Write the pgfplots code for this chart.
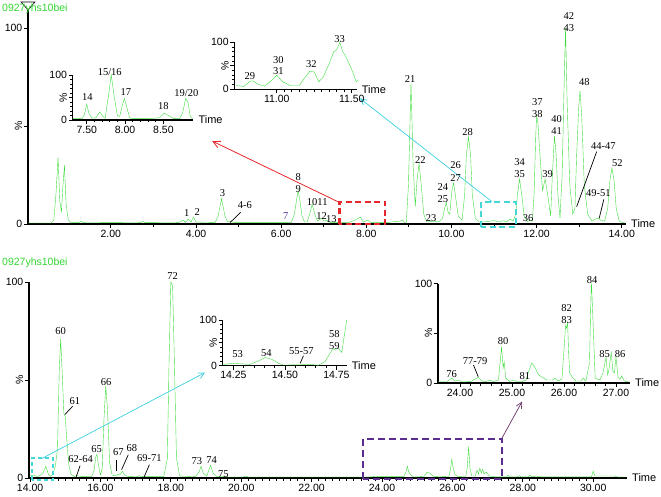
\documentclass[border=0pt]{standalone}
\usepackage{fontspec}
\setmainfont{Liberation Sans}
\newfontfamily\tnr{Liberation Serif}
\usepackage{graphicx}
\usepackage{pgfplots}
\pgfplotsset{compat=1.18}
\usetikzlibrary{arrows.meta}

\definecolor{trace}{HTML}{3FDC3F}
\definecolor{titlegreen}{HTML}{33D633}
\definecolor{boxred}{HTML}{E8262B}
\definecolor{boxcyan}{HTML}{45D6D6}
\definecolor{arrcyan}{HTML}{3CCFE0}
\definecolor{boxpurple}{HTML}{5A2D8F}
\definecolor{arrpurple}{HTML}{6B3568}
\definecolor{lab7}{HTML}{553399}

\tikzset{
  pk/.style={font=\tnr\fontsize{10.5}{10.5}\selectfont, inner sep=0pt},
  lead/.style={black, line width=0.7pt},
}

\pgfplotsset{
  chrom/.style={
    scale only axis, clip=false, anchor=south west,
    axis x line=bottom, axis y line=left,
    axis line style={-, black, line width=1.1pt},
    tick align=outside, major tick length=4pt, minor tick length=2.5pt,
    every tick/.append style={black, line width=0.8pt},
    ytick={0,50,100}, yticklabels={0,\rotatebox{90}{\%},100},
    tick label style={font=\fontsize{10.5}{12}\selectfont},
    xticklabel style={/pgf/number format/fixed, /pgf/number format/fixed zerofill,
      /pgf/number format/precision=2, /pgf/number format/assume math mode=true, inner sep=1.5pt},
    yticklabel style={inner sep=1.5pt},
    cycle list={{trace, line width=1.1pt, mark=none}},
  },
}
\newcommand{\timelabel}{\node[anchor=west, font=\fontsize{11}{12}\selectfont, inner sep=0pt] at ([xshift=5pt]rel axis cs:1,0) {Time};}

\begin{document}
\begin{tikzpicture}
\useasboundingbox (0,0) rectangle (661pt,496pt);

% ---------------- top main chromatogram
\begin{axis}[chrom, at={(28pt,272pt)}, width=598pt, height=216pt,
  xmin=0.054, xmax=14.1, ymin=0, ymax=110.2,
  xtick={2,4,...,14}, minor x tick num=1]
\addplot coordinates {
(0.05,0.5) (0.6,0.5) (0.66,2) (0.71,15) (0.76,34) (0.80,12) (0.84,6) (0.87,18) (0.91,30)
(0.95,10) (1.0,2) (1.05,0.8) (1.25,0.8) (1.3,1.5) (1.35,0.8) (2.0,0.7) (2.7,0.8) (2.75,1.3)
(2.8,0.7) (3.6,0.8) (3.7,2) (3.75,0.8) (3.82,2.5) (3.88,1) (3.94,3.5) (4.0,1) (4.45,0.8)
(4.52,4) (4.6,13) (4.68,4) (4.74,1) (4.8,1.5) (4.9,0.8) (5.6,0.8) (6.24,0.8) (6.31,5)
(6.36,12) (6.4,17) (6.44,12) (6.49,4) (6.55,1) (6.61,1) (6.67,5) (6.73,10) (6.79,5) (6.85,1.5)
(6.92,2.5) (6.96,3) (7.0,1.5) (7.08,2) (7.15,0.8) (7.6,0.8) (7.78,2.5) (7.86,3.5) (7.93,1)
(8.03,2) (8.1,0.8) (8.5,0.8) (8.8,1.5) (8.85,2) (8.9,0.8) (8.94,1) (8.99,20) (9.05,72) (9.1,30)
(9.15,9) (9.19,22) (9.24,31) (9.29,20) (9.35,5) (9.42,1) (9.6,1.5) (9.7,1) (9.79,3) (9.84,8)
(9.88,11) (9.92,6) (9.96,5) (10.01,17) (10.05,21) (10.09,15) (10.16,4) (10.25,2) (10.31,15)
(10.35,35) (10.4,44.5) (10.45,35) (10.49,15) (10.56,3) (10.65,1) (10.85,1.2) (11.0,1.8)
(11.1,1) (11.2,1.6) (11.3,1.2) (11.38,2.5) (11.45,1.5) (11.51,5) (11.55,15) (11.6,23)
(11.65,15) (11.71,4) (11.78,1.2) (11.85,2) (11.9,1.5) (11.94,15) (11.98,45) (12.0,55) (12.03,52)
(12.08,35) (12.14,17) (12.2,23) (12.26,15) (12.33,4) (12.37,25) (12.42,45) (12.46,35)
(12.5,15) (12.55,3) (12.6,25) (12.65,75) (12.68,100) (12.72,60) (12.78,20) (12.85,5)
(12.9,8) (12.94,35) (12.99,60) (13.02,68) (13.06,55) (13.12,20) (13.2,5) (13.3,1.5)
(13.38,2.5) (13.45,3) (13.5,2) (13.6,1.5) (13.67,8) (13.72,22) (13.77,28.5) (13.82,22)
(13.87,8) (13.94,1.5) (14.0,0.8) (14.08,0.5)
};
\draw[black, line width=0.6pt, fill=white] ([yshift=-2pt]rel axis cs:0,1) -- ++(-7pt,8pt) -- ++(14pt,0pt) -- cycle;
\timelabel
% boxes and arrows
\draw[boxred, line width=2.2pt, dash pattern=on 6pt off 3.5pt] (axis cs:7.37,0) rectangle (axis cs:8.44,11.4);
\draw[boxred, line width=0.8pt, -{Straight Barb[length=7pt,width=7pt]}] (axis cs:7.33,11.4) -- (axis cs:4.38,42.3);
\draw[boxcyan, line width=2pt, dash pattern=on 6pt off 3.5pt] (axis cs:10.70,-1.4) rectangle (axis cs:11.51,11.4);
\draw[arrcyan, line width=0.7pt, -{Straight Barb[length=6pt,width=6pt]}] (axis cs:10.95,11.4) -- (axis cs:7.85,64.1);
% peak labels
\node[pk] at (axis cs:3.78,5.4) {1};
\node[pk] at (axis cs:4.03,6.3) {2};
\node[pk] at (axis cs:4.62,16) {3};
\draw[lead] (axis cs:4.8,0.7) -- (axis cs:5.05,6);
\node[pk] at (axis cs:5.15,9.5) {4-6};
\node[pk, text=lab7] at (axis cs:6.11,4) {7};
\node[pk] at (axis cs:6.4,24) {8};
\node[pk] at (axis cs:6.4,18) {9};
\node[pk] at (axis cs:6.73,11) {10};
\node[pk] at (axis cs:6.97,11) {11};
\node[pk] at (axis cs:6.95,4) {12};
\node[pk] at (axis cs:7.18,2.5) {13};
\node[pk] at (axis cs:9.03,74) {21};
\node[pk] at (axis cs:9.27,32.6) {22};
\node[pk] at (axis cs:9.52,3) {23};
\node[pk] at (axis cs:9.8,19) {24};
\node[pk] at (axis cs:9.8,12.6) {25};
\node[pk] at (axis cs:10.1,30) {26};
\node[pk] at (axis cs:10.1,23.5) {27};
\node[pk] at (axis cs:10.38,47) {28};
\node[pk] at (axis cs:11.6,31.5) {34};
\node[pk] at (axis cs:11.6,25.5) {35};
\node[pk] at (axis cs:11.8,3) {36};
\node[pk] at (axis cs:12.02,62) {37};
\node[pk] at (axis cs:12.02,56) {38};
\node[pk] at (axis cs:12.26,25.5) {39};
\node[pk] at (axis cs:12.47,53.5) {40};
\node[pk] at (axis cs:12.47,47.5) {41};
\node[pk] at (axis cs:12.76,106) {42};
\node[pk] at (axis cs:12.76,100) {43};
\draw[lead] (axis cs:12.94,8.8) -- (axis cs:13.41,36.9);
\node[pk] at (axis cs:13.57,39.8) {44-47};
\node[pk] at (axis cs:13.12,72.5) {48};
\draw[lead] (axis cs:13.47,2.9) -- (axis cs:13.58,12.6);
\node[pk] at (axis cs:13.45,16) {49-51};
\node[pk] at (axis cs:13.9,31) {52};
\end{axis}

% ---------------- inset A (7.3 - 8.9)
\begin{axis}[chrom, at={(72.7pt,376pt)}, width=120.6pt, height=45pt,
  xmin=7.317, xmax=8.89, ymin=0, ymax=100,
  xtick={7.5,8,8.5}, minor x tick num=4, minor y tick num=4]
\addplot coordinates {
(7.32,3) (7.44,3) (7.47,12) (7.5,35) (7.53,14) (7.57,4) (7.62,5) (7.67,18) (7.71,8) (7.74,4)
(7.78,50) (7.82,100) (7.86,50) (7.9,10) (7.93,8) (7.96,30) (7.99,48) (8.02,30) (8.06,5)
(8.1,3) (8.3,3) (8.45,5) (8.51,15) (8.57,10) (8.63,3) (8.71,3) (8.75,15) (8.79,48) (8.82,40)
(8.85,8) (8.88,3)
};
\timelabel
\node[pk] at (axis cs:7.51,50) {14};
\node[pk] at (axis cs:7.8,107) {15/16};
\node[pk] at (axis cs:8.01,63) {17};
\node[pk] at (axis cs:8.5,30) {18};
\node[pk] at (axis cs:8.8,60) {19/20};
\end{axis}

% ---------------- inset B (10.7 - 11.55)
\begin{axis}[chrom, at={(234.3pt,406.7pt)}, width=122.4pt, height=47pt,
  xmin=10.717, xmax=11.533, ymin=0, ymax=100,
  xtick={11,11.5}, minor x tick num=9, minor y tick num=4]
\addplot coordinates {
(10.73,8) (10.78,6) (10.82,17) (10.84,18) (10.88,10) (10.92,7) (10.97,20) (11.0,30) (11.04,16)
(11.09,8) (11.15,8) (11.19,26) (11.22,38) (11.25,37) (11.28,16) (11.31,26) (11.35,55)
(11.38,80) (11.4,84) (11.42,100) (11.44,80) (11.46,70) (11.5,42) (11.53,16) (11.545,20)
};
\timelabel
\node[pk] at (axis cs:10.82,28) {29};
\node[pk] at (axis cs:11.01,63) {30};
\node[pk] at (axis cs:11.01,39) {31};
\node[pk] at (axis cs:11.23,53) {32};
\node[pk] at (axis cs:11.42,107) {33};
\end{axis}

% ---------------- bottom main chromatogram
\begin{axis}[chrom, at={(29pt,18pt)}, width=598pt, height=196pt,
  xmin=13.97, xmax=30.96, ymin=0, ymax=100,
  xtick={14,16,...,30}, minor x tick num=9]
\addplot coordinates {
(13.98,1) (14.1,1.5) (14.2,0.8) (14.3,1.5) (14.38,3) (14.45,6) (14.52,2) (14.58,0.8) (14.65,2)
(14.72,6) (14.78,15) (14.83,55) (14.87,71) (14.91,55) (14.96,33) (15.0,31) (15.05,18) (15.1,7)
(15.16,2) (15.25,0.8) (15.32,1.2) (15.45,0.8) (15.75,0.8) (15.82,4) (15.87,11) (15.9,12)
(15.95,6) (16.0,1.5) (16.05,5) (16.1,30) (16.15,47) (16.2,35) (16.26,8) (16.33,1.5) (16.45,1)
(16.5,2) (16.55,1.5) (16.62,3.5) (16.68,1.5) (16.8,0.7) (17.05,0.8) (17.1,1.2) (17.16,0.7)
(17.8,0.7) (17.9,10) (17.95,60) (18.0,100) (18.05,98) (18.1,60) (18.16,10) (18.25,1)
(18.7,0.7) (18.8,3) (18.86,6) (18.92,2.5) (19.02,1) (19.08,4) (19.13,6.5) (19.2,2.5)
(19.3,0.8) (19.45,1) (19.6,0.5) (20.05,0.5) (20.12,1) (20.2,0.5) (23.6,0.5) (23.85,0.8)
(24.3,0.8) (24.62,0.8) (24.68,3) (24.72,6) (24.76,3) (24.82,1.5) (24.9,0.5) (25.2,0.8)
(25.28,3) (25.35,2.5) (25.45,1) (25.6,0.6) (25.9,0.8) (25.95,5) (25.98,9.5) (26.02,5)
(26.08,1.5) (26.2,0.7) (26.38,0.8) (26.42,5) (26.46,16) (26.5,5) (26.55,1) (26.65,1) (26.7,4)
(26.74,2) (26.78,5) (26.82,2.5) (26.86,4.5) (26.9,2) (26.96,3) (27.05,1) (27.2,0.6)
(27.55,0.6) (27.58,1.5) (27.62,0.6) (27.85,0.6) (27.9,1.2) (27.95,0.6) (28.15,0.6) (28.2,1.5)
(28.25,0.6) (28.4,1.0) (28.5,0.6) (29.95,0.6) (30.0,3.5) (30.05,1) (30.15,1) (30.6,1)
(30.7,0.5) (30.95,0.5)
};
\timelabel
\draw[boxcyan, line width=1.6pt, dash pattern=on 4pt off 3pt] (axis cs:14.05,-0.9) rectangle (axis cs:14.66,10.2);
\draw[arrcyan, line width=0.7pt, -{Straight Barb[length=6pt,width=6pt]}] (axis cs:14.33,9.9) -- (axis cs:18.97,53.8);
\draw[boxpurple, line width=2pt, dash pattern=on 7pt off 4pt] (axis cs:23.47,-0.5) rectangle (axis cs:27.4,20.1);
\draw[arrpurple, line width=0.7pt, -{Straight Barb[length=6pt,width=6pt]}] (axis cs:27.4,20.1) -- (axis cs:27.98,39);
\node[pk] at (axis cs:14.87,75) {60};
\draw[lead] (axis cs:14.99,32.4) -- (axis cs:15.21,36.6);
\node[pk] at (axis cs:15.27,39.5) {61};
\draw[lead] (axis cs:15.31,0.5) -- (axis cs:15.42,6.3);
\node[pk] at (axis cs:15.44,9.9) {62-64};
\node[pk] at (axis cs:15.89,14.8) {65};
\node[pk] at (axis cs:16.16,49) {66};
\draw[lead] (axis cs:16.44,3.4) -- (axis cs:16.44,9.4);
\node[pk] at (axis cs:16.51,13.2) {67};
\draw[lead] (axis cs:16.6,4.2) -- (axis cs:16.79,11.9);
\node[pk] at (axis cs:16.89,15.3) {68};
\draw[lead] (axis cs:17.24,0.5) -- (axis cs:17.39,6.8);
\node[pk] at (axis cs:17.39,10.2) {69-71};
\node[pk] at (axis cs:18.05,103) {72};
\node[pk] at (axis cs:18.74,8.5) {73};
\node[pk] at (axis cs:19.16,9) {74};
\node[pk] at (axis cs:19.49,2.2) {75};
\end{axis}

% ---------------- inset C (14.2 - 14.8)
\begin{axis}[chrom, at={(222.7pt,130.3pt)}, width=124pt, height=45.7pt,
  xmin=14.198, xmax=14.80, ymin=0, ymax=100,
  xtick={14.25,14.5,14.75}, minor x tick num=4, minor y tick num=4]
\addplot coordinates {
(14.198,3) (14.25,5) (14.33,3) (14.37,10) (14.404,18) (14.436,14) (14.47,5) (14.493,1.5)
(14.574,2) (14.622,3) (14.663,1) (14.695,9) (14.728,34) (14.76,38) (14.776,29) (14.8,100)
};
\timelabel
\node[pk] at (axis cs:14.27,25) {53};
\node[pk] at (axis cs:14.41,27) {54};
\draw[lead] (axis cs:14.574,5) -- (axis cs:14.59,22);
\node[pk] at (axis cs:14.58,31) {55-57};
\node[pk] at (axis cs:14.74,69) {58};
\node[pk] at (axis cs:14.74,42) {59};
\end{axis}

% ---------------- inset D (23.6 - 27.3)
\begin{axis}[chrom, at={(438pt,113pt)}, width=192pt, height=99.5pt,
  xmin=23.577, xmax=27.27, ymin=0, ymax=100,
  xtick={24,25,26,27}, minor x tick num=4]
\addplot coordinates {
(23.58,1.5) (23.75,1.5) (23.84,5) (23.9,2) (23.97,3) (24.05,1) (24.2,1.5) (24.3,4) (24.35,5.7)
(24.42,2) (24.5,1.5) (24.58,3) (24.64,1.5) (24.74,3) (24.78,25) (24.8,36.5) (24.83,15)
(24.85,21) (24.88,5) (24.95,1.5) (25.03,3) (25.09,1.5) (25.2,1.5) (25.27,3) (25.31,10)
(25.38,20) (25.44,16) (25.5,9) (25.57,6) (25.67,3) (25.78,3) (25.83,5) (25.88,2) (25.96,4)
(26.01,40) (26.03,58) (26.05,55) (26.07,60) (26.09,30) (26.11,10) (26.16,6) (26.23,2)
(26.33,2) (26.37,5) (26.42,2) (26.49,20) (26.52,90) (26.53,100) (26.56,60) (26.6,5)
(26.69,3) (26.75,10) (26.81,26) (26.84,8) (26.86,12) (26.91,31) (26.94,12) (26.97,10)
(27.0,26) (27.04,6) (27.08,4) (27.11,7) (27.16,2) (27.25,1)
};
\timelabel
\node[pk] at (axis cs:23.84,9) {76};
\draw[lead] (axis cs:24.35,6.3) -- (axis cs:24.26,18);
\node[pk] at (axis cs:24.29,22.4) {77-79};
\node[pk] at (axis cs:24.83,42) {80};
\node[pk] at (axis cs:25.25,7) {81};
\node[pk] at (axis cs:26.05,75) {82};
\node[pk] at (axis cs:26.05,63) {83};
\node[pk] at (axis cs:26.54,103) {84};
\node[pk] at (axis cs:26.78,29) {85};
\node[pk] at (axis cs:27.08,29) {86};
\end{axis}

\node[anchor=west, inner sep=0pt, text=titlegreen, font=\fontsize{10.5}{12}\selectfont] at (2pt,487.7pt) {0927yhs10bei};
\node[anchor=west, inner sep=0pt, text=titlegreen, font=\fontsize{10.5}{12}\selectfont] at (2pt,233.3pt) {0927yhs10bei};
\end{tikzpicture}
\end{document}
